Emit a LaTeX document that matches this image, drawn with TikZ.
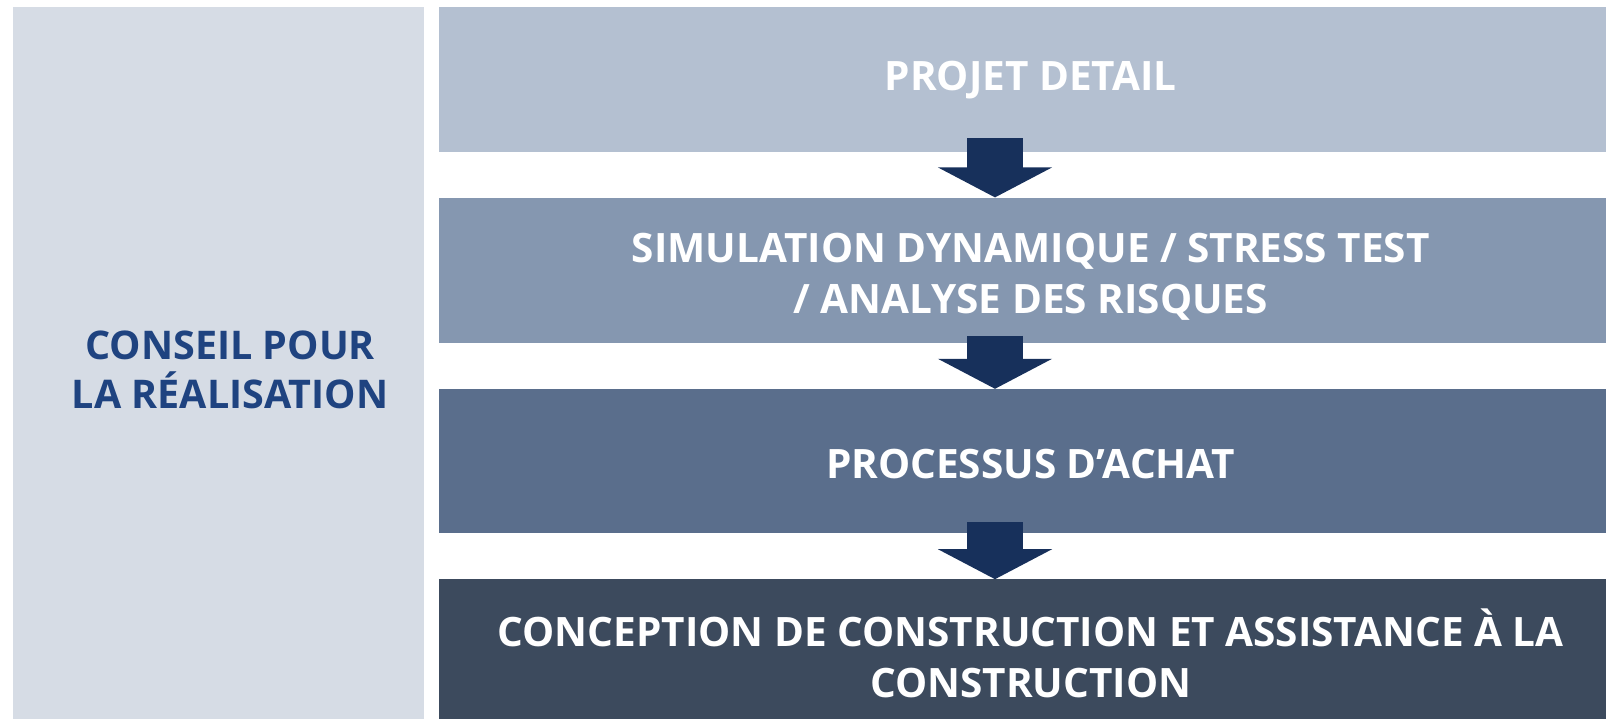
\documentclass[tikz,border=0pt]{standalone}
\usepackage{fontspec}
\setmainfont{Open Sans}
\usetikzlibrary{arrows.meta, calc, positioning}

\definecolor{panelgray}{HTML}{D6DCE5}
\definecolor{stepone}{HTML}{B4C0D1}
\definecolor{steptwo}{HTML}{8597B0}
\definecolor{stepthree}{HTML}{5A6E8C}
\definecolor{stepfour}{HTML}{3C4A5D}
\definecolor{arrownavy}{HTML}{17305B}
\definecolor{titleblue}{HTML}{1F4380}

\tikzset{
  stagebox/.style={rectangle, minimum width=1183pt, minimum height=145pt, inner sep=0pt,
    align=center, text=white, font=\fontsize{40.5}{51}\selectfont\bfseries},
  flowarrow/.style={draw=arrownavy, line width=56pt,
    -{Triangle[width=113pt, length=30pt]}}
}

\begin{document}
\begin{tikzpicture}[x=1pt, y=-1pt]
\useasboundingbox (0,0) rectangle (1606,718);
\clip (0,0) rectangle (1606,718);
% side panel
\node (side) [rectangle, fill=panelgray, minimum width=411pt, minimum height=723pt, inner sep=0pt, anchor=north west] at (13,7) {};
\node (sidelabel) [xshift=11.5pt, yshift=-1pt, align=center, text=titleblue, font=\fontsize{39.5}{49}\selectfont\bfseries] at (side.center) {CONSEIL POUR\\LA RÉALISATION};
% stages
\node (b1) [stagebox, fill=stepone, anchor=north west] at (439,7) {PROJET DETAIL};
\node (b2) [stagebox, fill=steptwo, below=45pt of b1] {\rule{0pt}{42pt}SIMULATION DYNAMIQUE / STRESS TEST\\/ ANALYSE DES RISQUES};
\node (b3) [stagebox, fill=stepthree, below=46pt of b2, minimum height=144pt] {\rule{0pt}{36pt}PROCESSUS D’ACHAT};
\node (b4) [stagebox, fill=stepfour, below=46pt of b3, minimum height=147pt] {CONCEPTION DE CONSTRUCTION ET ASSISTANCE À LA\\CONSTRUCTION};
% arrows
\coordinate (axis) at (995,0);
\foreach \from/\to/\up in {b1/b2/14, b2/b3/7, b3/b4/11}
  \draw[flowarrow] ($(axis |- \from.south)+(0,-\up)$) -- (axis |- \to.north);
\end{tikzpicture}
\end{document}
